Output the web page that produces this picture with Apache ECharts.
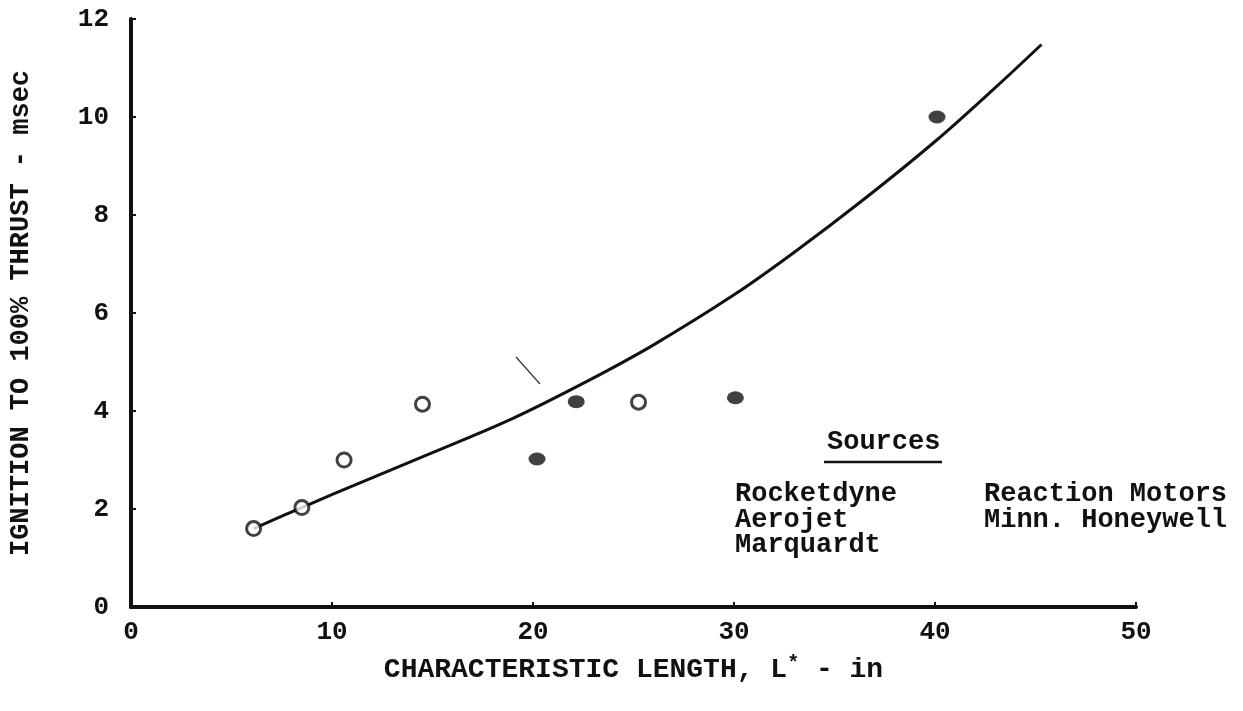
<!DOCTYPE html>
<html>
<head>
<meta charset="utf-8">
<script src="https://cdn.jsdelivr.net/npm/echarts@6/dist/echarts.min.js"></script>
<style>
  html, body { margin: 0; padding: 0; background: #fff; }
  #chart { width: 1243px; height: 711px; }
</style>
</head>
<body>
<div id="chart"></div>
<script>
// Ignition-to-full-thrust time versus characteristic length L*
const xTicks = [0, 10, 20, 30, 40, 50];
const yTicks = [0, 2, 4, 6, 8, 10, 12];

// measured points, open symbols
const openX = [6.1, 8.5, 10.6, 14.5, 25.25];
const openY = [1.6, 2.03, 3.0, 4.14, 4.18];

// measured points, solid symbols
const solidX = [20.2, 22.15, 30.07, 40.1];
const solidY = [3.02, 4.19, 4.27, 10.0];

// faired trend curve
const fitX = [6.1, 8.5, 11.6, 15, 19, 22.8, 26, 30, 33, 36.4, 40, 43, 45.3];
const fitY = [1.6, 2.03, 2.57, 3.15, 3.85, 4.63, 5.35, 6.37, 7.24, 8.3, 9.5, 10.6, 11.48];

const sourcesLeft = ['Rocketdyne', 'Aerojet', 'Marquardt'];
const sourcesRight = ['Reaction Motors', 'Minn. Honeywell'];

const FONT = '"Liberation Mono", "DejaVu Sans Mono", monospace';
const INK = '#111';

const zip = (xs, ys) => xs.map((x, i) => [x, ys[i]]);

const chart = echarts.init(document.getElementById('chart'), null, { renderer: 'canvas' });

const textStyle = { fontFamily: FONT, fontWeight: 'bold', color: INK };
const legendFont = 'bold 27px ' + FONT;

const graphics = [
  {
    type: 'text', left: 827, top: 429,
    style: { text: 'Sources', font: legendFont, fill: INK }
  },
  {
    type: 'line', shape: { x1: 824, y1: 462, x2: 942, y2: 462 },
    style: { stroke: INK, lineWidth: 2.5 }
  },
  {
    type: 'line', shape: { x1: 516, y1: 357, x2: 540, y2: 384 },
    style: { stroke: '#333', lineWidth: 1.2 }
  }
];
sourcesLeft.forEach((s, i) => graphics.push({
  type: 'text', left: 735, top: 481 + i * 25.5,
  style: { text: s, font: legendFont, fill: INK }
}));
sourcesRight.forEach((s, i) => graphics.push({
  type: 'text', left: 984, top: 481 + i * 25.5,
  style: { text: s, font: legendFont, fill: INK }
}));

chart.setOption({
  animation: false,
  backgroundColor: '#fff',
  grid: { left: 131, right: 107, top: 19, bottom: 104, containLabel: false },
  xAxis: {
    type: 'value', min: xTicks[0], max: xTicks[xTicks.length - 1], interval: 10,
    name: 'CHARACTERISTIC LENGTH, L{sup|*} - in',
    nameLocation: 'middle', nameGap: 47,
    nameTextStyle: Object.assign({}, textStyle, {
      fontSize: 28,
      rich: { sup: { fontFamily: FONT, fontWeight: 'bold', fontSize: 20, color: INK, verticalAlign: 'top', padding: [0, 0, 12, 0] } }
    }),
    axisLine: { show: true, lineStyle: { color: INK, width: 4 } },
    axisTick: { show: true, inside: true, length: 5, lineStyle: { color: INK, width: 2 } },
    axisLabel: Object.assign({}, textStyle, { fontSize: 26, margin: 12 }),
    splitLine: { show: false }
  },
  yAxis: {
    type: 'value', min: yTicks[0], max: yTicks[yTicks.length - 1], interval: 2,
    name: 'IGNITION TO 100% THRUST - msec',
    nameLocation: 'middle', nameGap: 96, nameRotate: 90,
    nameTextStyle: Object.assign({}, textStyle, { fontSize: 27 }),
    axisLine: { show: true, lineStyle: { color: INK, width: 4 } },
    axisTick: { show: true, inside: true, length: 5, lineStyle: { color: INK, width: 2 } },
    axisLabel: Object.assign({}, textStyle, { fontSize: 26, margin: 22 }),
    splitLine: { show: false }
  },
  graphic: graphics,
  series: [
    {
      type: 'line', data: zip(fitX, fitY), smooth: 0.35, showSymbol: false,
      lineStyle: { color: INK, width: 3 }, z: 2
    },
    {
      type: 'scatter', data: zip(openX, openY), symbol: 'circle', symbolSize: 14,
      itemStyle: { color: '#fff', borderColor: INK, borderWidth: 3 }, z: 3
    },
    {
      type: 'scatter', data: zip(solidX, solidY), symbol: 'circle', symbolSize: [17, 13],
      itemStyle: { color: INK }, z: 3
    }
  ]
});
</script>
</body>
</html>
